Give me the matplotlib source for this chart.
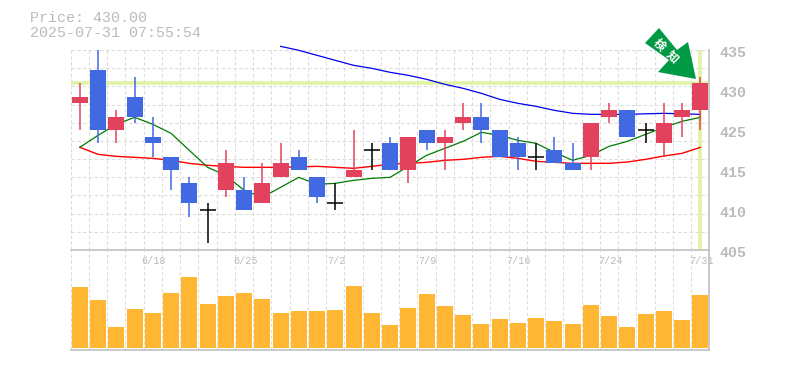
import numpy as np
import matplotlib
matplotlib.use('Agg')
import matplotlib.pyplot as plt
from matplotlib.patches import Polygon

W, H = 785, 370

title_lines = ['Price: 430.00', '2025-07-31 07:55:54']
price_labels = ['435', '430', '425', '415', '410', '405']
date_labels = {4: '6/18', 9: '6/25', 14: '7/2', 19: '7/9', 24: '7/16', 29: '7/24', 34: '7/31'}
badge_chars = ['検', '知']
last_price = 430

opens = [427, 432, 423, 428, 422, 419, 415, 411, 414, 414, 412, 416, 419, 416, 412, 416, 420, 421, 417, 423, 421, 424, 425, 423, 421, 419, 420, 418, 419, 425, 426, 423, 421, 425, 426]
closes = [428, 423, 425, 425, 421, 417, 412, 411, 418, 411, 415, 418, 417, 413, 412, 417, 420, 417, 422, 421, 422, 425, 423, 419, 419, 419, 418, 417, 424, 426, 422, 423, 424, 426, 430]
highs = [430, 435, 426, 431, 425, 419, 416, 412, 420, 416, 418, 421, 420, 416, 415, 423, 421, 422, 422, 423, 423, 427, 427, 423, 422, 421, 422, 421, 424, 427, 426, 424, 427, 427, 431]
lows = [423, 421, 421, 424, 419, 414, 410, 406, 413, 411, 412, 416, 417, 412, 411, 416, 417, 417, 415, 420, 417, 423, 421, 419, 417, 417, 418, 417, 417, 424, 422, 421, 419, 422, 423]

ma_green = [420.4, 422.2, 423.85, 424.9, 423.85, 422.5, 419.95, 417.4, 416.2, 413.95, 412.9, 414.4, 415.9, 414.85, 415, 415.45, 415.75, 415.9, 417.55, 419.2, 420.25, 421.3, 422.65, 422.2, 421.45, 421, 419.65, 418.45, 419.2, 420.55, 421.3, 422.35, 423.4, 424.3, 424.9]
ma_red = [420.4, 419.35, 419.05, 418.9, 418.75, 418.45, 418, 417.7, 417.55, 417.4, 417.4, 417.4, 417.47, 417.55, 417.4, 417.25, 417.55, 417.85, 418, 418.15, 418.45, 418.6, 418.9, 419.05, 418.75, 418.3, 418.15, 418, 418, 418, 418.2, 418.6, 419.1, 419.5, 420.4]
ma_blue = [np.nan] * 11 + [435.55, 434.95, 434.2, 433.45, 432.7, 432.25, 431.65, 431.2, 430.6, 429.85, 429.25, 428.5, 427.6, 427, 426.55, 425.95, 425.5, 425.35, 425.35, 425.35, 425.43, 425.5, 425.43, 425.35]

volumes = [61, 48, 21, 39, 35, 55, 71, 44, 52, 55, 49, 35, 37, 37, 38, 62, 35, 23, 40, 54, 42, 33, 24, 29, 25, 30, 27, 24, 43, 32, 21, 34, 37, 28, 53]

UP = '#e3425f'
DOWN = '#4169e1'
GRID = '#dcdcdc'
GRAY = '#bbbbbb'
HILITE = '#e0f3a3'
VOL = '#ffb733'
ARROW = '#009944'
MONO = 'Liberation Mono'
GRID_STYLE = dict(color=GRID, lw=0.8, dashes=(3, 2.2))


def px_rect(x0, y0, x1, y1):
    return [x0 / W, 1 - y1 / H, (x1 - x0) / W, (y1 - y0) / H]


def style_axes(ax):
    ax.set_xlim(-0.5, 34.5)
    ax.set_xticks(np.arange(-0.5, 34.5, 1))
    ax.tick_params(length=0, labelbottom=False, labelleft=False)
    ax.set_axisbelow(True)
    ax.patch.set_alpha(0)
    ax.grid(True, axis='x', **GRID_STYLE)
    for s in ['top', 'left']:
        ax.spines[s].set_visible(False)
    for s in ['right', 'bottom']:
        ax.spines[s].set_color(GRAY)
        ax.spines[s].set_linewidth(1.1)


fig = plt.figure(figsize=(W / 100, H / 100), dpi=100)
ax = fig.add_axes(px_rect(70.7, 50, 709.5, 250))
vol = fig.add_axes(px_rect(70.7, 250, 709.5, 350))
style_axes(ax)
style_axes(vol)

ax.set_ylim(405, 435)
ax.set_yticks(np.linspace(405, 435, 12))
ax.grid(True, axis='y', **GRID_STYLE)
ax.axhline(435, zorder=1, **GRID_STYLE)
ax.axvline(-0.5, zorder=1, **GRID_STYLE)

# current price and latest day
ax.axhline(last_price, color=HILITE, lw=2.6, zorder=1.5)
ax.axvline(34, color=HILITE, lw=2.6, zorder=1.5)

x = np.arange(len(opens))
ax.plot(x, ma_red, color='#ff0000', lw=1.0, zorder=2)
ax.plot(x, ma_green, color='#007a00', lw=0.9, zorder=2)
ax.plot(x, ma_blue, color='#0000ee', lw=0.9, zorder=2, clip_on=False)

for i in x:
    o, c = opens[i], closes[i]
    col = 'black' if o == c else (UP if c > o else DOWN)
    ax.vlines(i, lows[i], highs[i], color=col, lw=1.1, zorder=3)
    if o == c:
        ax.hlines(o, i - 0.44, i + 0.44, color=col, lw=1.1, zorder=3)
    else:
        ax.bar(i, abs(c - o), bottom=min(o, c), width=0.88, color=col, zorder=4)

# labels do not follow the price scale in the original, they sit every 40 px
for n, lab in enumerate(price_labels):
    fig.text(720 / W, 1 - (53 + 40 * n) / H, lab, color=GRAY, family=MONO,
             fontsize=10.8, fontweight='bold', va='center', ha='left')

vol.bar(x, volumes, width=0.88, color=VOL, zorder=3)
vol.set_ylim(-2.5, 97.5)
vol.axvline(-0.5, zorder=1, **GRID_STYLE)
for i, lab in date_labels.items():
    vol.text(i + 0.05, 86.5, lab, color=GRAY, family=MONO, fontsize=7.3,
             ha='center', va='center', zorder=4)

fig.text(29.5 / W, 1 - 18 / H, title_lines[0], color=GRAY, family=MONO,
         fontsize=10.85, va='center', ha='left')
fig.text(29.5 / W, 1 - 33 / H, title_lines[1], color=GRAY, family=MONO,
         fontsize=10.85, va='center', ha='left')

# arrow badge
pts = [(645, 43), (659, 28), (677, 50), (688, 42), (696, 79), (658, 72), (669, 60)]
fig.add_artist(Polygon([(a / W, 1 - b / H) for a, b in pts], closed=True, transform=fig.transFigure,
                       facecolor=ARROW, edgecolor='none', zorder=6))
for ch, (bx, by) in zip(badge_chars, [(659.5, 44.5), (672, 57)]):
    fig.text(bx / W, 1 - by / H, ch, color='white', fontsize=8.5, fontweight='bold', rotation=-45,
             family=['Noto Sans CJK JP', 'DejaVu Sans'], ha='center', va='center', zorder=7)

fig.savefig('out.png', dpi=100)
